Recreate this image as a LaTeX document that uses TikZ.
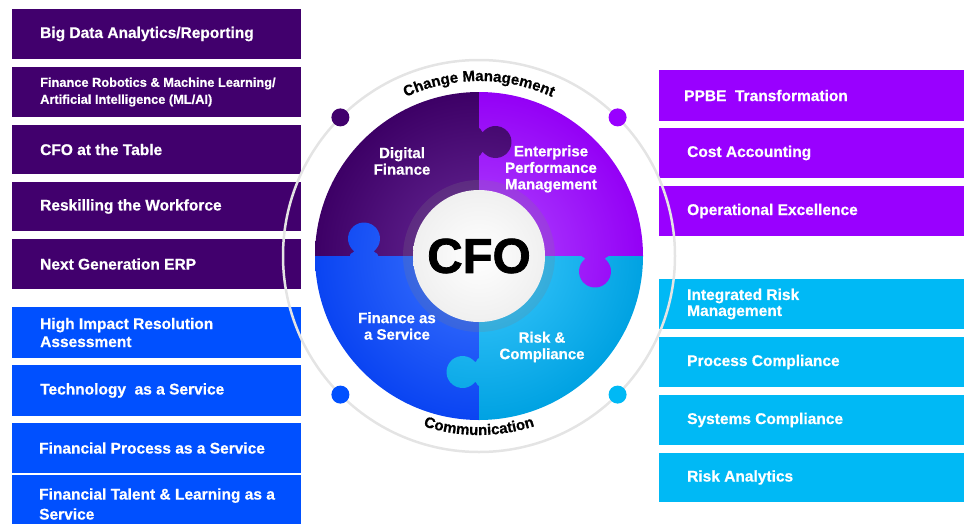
\documentclass[tikz,border=0pt]{standalone}
\usepackage{fontspec}
\setmainfont{Liberation Sans}[BoldFeatures={FakeBold=0.6}]
\newfontfamily\cfofont{Liberation Sans}[BoldFeatures={FakeBold=1.6}]
\usetikzlibrary{decorations.text}
\definecolor{lpurple}{HTML}{41006D}
\definecolor{lblue}{HTML}{0050FF}
\definecolor{rviolet}{HTML}{9900FF}
\definecolor{rcyan}{HTML}{00B9F5}
\definecolor{ringgray}{HTML}{E4E4E4}
\definecolor{tlo}{HTML}{3D0066}
\definecolor{tli}{HTML}{6A2C9A}
\definecolor{tro}{HTML}{9400F6}
\definecolor{tri}{HTML}{B04AFF}
\definecolor{blo}{HTML}{0A44F2}
\definecolor{bli}{HTML}{3F76FF}
\definecolor{bro}{HTML}{00A2E2}
\definecolor{bri}{HTML}{40CBFF}

\newcommand\myquad[4]{%
  \begin{scope}
    \clip (C) -- ([shift={(#1:164)}]C) arc[start angle=#1, end angle=#2, radius=164] -- cycle;
    \shade[inner color=#3, outer color=#4] (C) circle (164);
  \end{scope}}
\newcommand\myknob[4]{%
  \begin{scope}[shift={#1}, rotate=#2]
    \clip (-1,-14) -- (0,-14) .. controls (2.5,-13.5) and (2.6,-8.4) .. (4.24,-10.28)
      arc[start angle=-140, end angle=140, radius=16]
      .. controls (2.6,8.4) and (2.5,13.5) .. (0,14) -- (-1,14) -- cycle;
    \shade[inner color=#3, outer color=#4] (C) circle (164);
  \end{scope}}

\begin{document}
\begin{tikzpicture}[x=1pt, y=1pt,
  box/.style={rectangle, inner sep=0, outer sep=0, anchor=north west, minimum width=289, minimum height=50},
  rbox/.style={rectangle, inner sep=0, outer sep=0, anchor=north west, minimum width=310, minimum height=50},
  btxt/.style={anchor=west, inner sep=0, text=white, align=left, font=\bfseries\fontsize{15.5}{18}\selectfont},
  qtxt/.style={inner sep=0, text=white, align=center, font=\bfseries\fontsize{15}{16.5}\selectfont},
  dot/.style={circle, minimum size=18, inner sep=0},
  arctext/.style={decorate, decoration={text along path, text align=center,
     text format delimiters={|}{|}, text={|\bfseries\fontsize{15}{16}\selectfont|#1}}}
]
\useasboundingbox (0,0) rectangle (964,-523);
\coordinate (C) at (479,-256);

% left purple boxes
\node[box, fill=lpurple] (L1) at (12,-9) {};
\node[box, fill=lpurple] (L2) at (12,-67) {};
\node[box, fill=lpurple, minimum height=49] (L3) at (12,-125) {};
\node[box, fill=lpurple, minimum height=49] (L4) at (12,-182) {};
\node[box, fill=lpurple] (L5) at (12,-239) {};
% left blue boxes
\node[box, fill=lblue, minimum height=51] (B1) at (12,-307) {};
\node[box, fill=lblue, minimum height=51] (B2) at (12,-365) {};
\node[box, fill=lblue] (B3) at (12,-423) {};
\node[box, fill=lblue, minimum height=58] (B4) at (12,-475) {};
% right violet boxes
\node[rbox, fill=rviolet, minimum height=51] (R1) at (659,-70) {};
\node[rbox, fill=rviolet] (R2) at (659,-128) {};
\node[rbox, fill=rviolet] (R3) at (659,-186) {};
% right cyan boxes
\node[rbox, fill=rcyan] (K1) at (659,-279) {};
\node[rbox, fill=rcyan] (K2) at (659,-337) {};
\node[rbox, fill=rcyan] (K3) at (659,-395) {};
\node[rbox, fill=rcyan, minimum height=49] (K4) at (659,-453) {};

% box texts
\node[btxt] (tL1) at ([xshift=28]L1.west) {Big Data Analytics/Reporting};
\node[btxt, font=\bfseries\fontsize{12.8}{17}\selectfont] (tL2) at ([xshift=28]L2.west) {Finance Robotics \& Machine Learning/\\Artificial Intelligence (ML/AI)};
\node[btxt] (tL3) at ([xshift=28]L3.west) {CFO at the Table};
\node[btxt] (tL4) at ([xshift=28]L4.west) {Reskilling the Workforce};
\node[btxt] (tL5) at ([xshift=28]L5.west) {Next Generation ERP};
\node[btxt] (tB1) at ([xshift=28]B1.west) {High Impact Resolution\\Assessment};
\node[btxt] (tB2) at ([xshift=28]B2.west) {Technology\ \ as a Service};
\node[btxt] (tB3) at ([xshift=27]B3.west) {Financial Process as a Service};
\node[btxt, font=\bfseries\fontsize{15.5}{20}\selectfont] (tB4) at ([xshift=27]B4.west) {Financial Talent \& Learning as a\\Service};
\node[btxt] (tR1) at ([xshift=25]R1.west) {PPBE\ \ Transformation};
\node[btxt] (tR2) at ([xshift=28]R2.west) {Cost Accounting};
\node[btxt] (tR3) at ([xshift=28]R3.west) {Operational Excellence};
\node[btxt, font=\bfseries\fontsize{15.5}{16}\selectfont] (tK1) at ([xshift=28]K1.west) {Integrated Risk\\Management};
\node[btxt] (tK2) at ([xshift=28]K2.west) {Process Compliance};
\node[btxt] (tK3) at ([xshift=28]K3.west) {Systems Compliance};
\node[btxt] (tK4) at ([xshift=28]K4.west) {Risk Analytics};

% outer ring, arc texts, dots
\draw[ringgray, line width=2.5] (C) circle (196);
\path[arctext={Change Management}] ([shift={(125:175)}]C) arc[start angle=125, end angle=55, radius=175];
\path[arctext={Communication}] ([shift={(235:179)}]C) arc[start angle=235, end angle=305, radius=179];
\node[dot, fill=lpurple] (dTL) at ([shift={(135:196)}]C) {};
\node[dot, fill=rviolet] (dTR) at ([shift={(45:196)}]C) {};
\node[dot, fill=lblue] (dBL) at ([shift={(225:196)}]C) {};
\node[dot, fill=rcyan] (dBR) at ([shift={(315:196)}]C) {};

% puzzle
\myquad{90}{180}{tli}{tlo}
\myquad{0}{90}{tri}{tro}
\myquad{180}{270}{bli}{blo}
\myquad{270}{360}{bri}{bro}
\myknob{(479,-142)}{0}{tli}{tlo}
\myknob{(364,-255)}{90}{bli}{blo}
\myknob{(595,-255)}{-90}{tri}{tro}
\myknob{(479,-372)}{180}{bri}{bro}

% centre
\fill[black!50, opacity=0.2] (C) circle (76);
\node[circle, minimum size=132, inner sep=0, inner color=white, outer color=black!6,
      font=\cfofont\bfseries\fontsize{49}{49}\selectfont] (cfo) at (C) {CFO};

% quadrant labels
\node[qtxt] (qTL) at (402,-161) {Digital\\Finance};
\node[qtxt] (qTR) at (551,-169) {Enterprise\\Performance\\Management};
\node[qtxt] (qBL) at (397,-326) {Finance as\\a Service};
\node[qtxt] (qBR) at (542,-347) {Risk \&\\Compliance};
\end{tikzpicture}
\end{document}
